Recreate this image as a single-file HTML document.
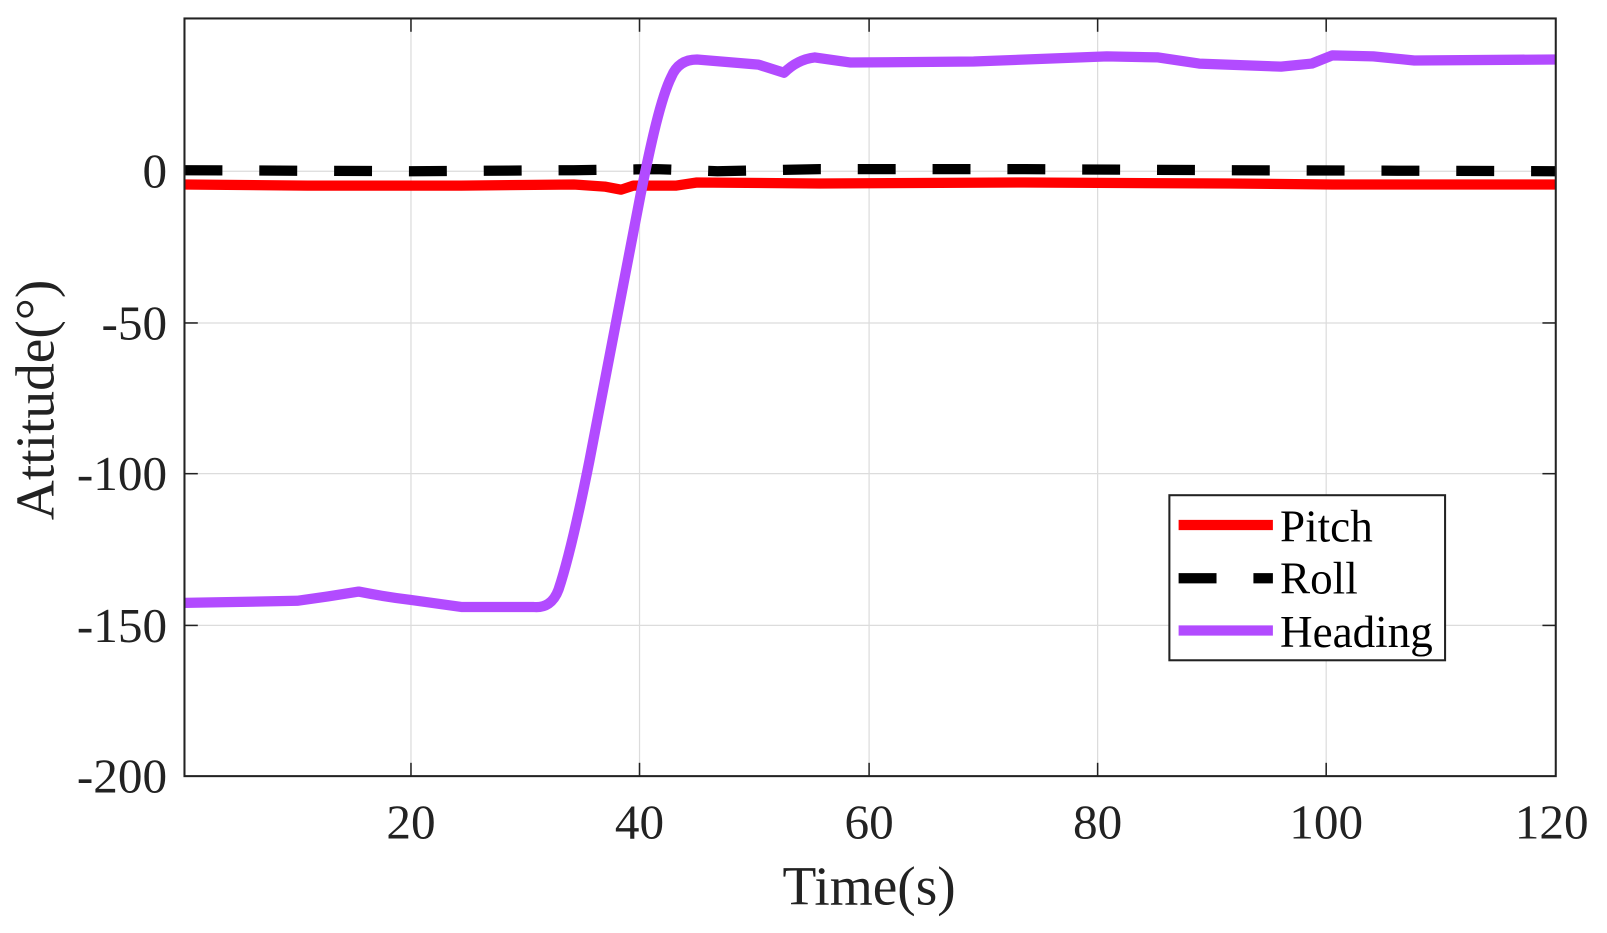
<!DOCTYPE html>
<html><head><style>
html,body{margin:0;padding:0;background:#fff;}
svg{display:block;}
text{font-family:"Liberation Serif",serif;fill:#222;}
</style></head><body>
<svg width="1607" height="933" viewBox="0 0 1568 910" preserveAspectRatio="none">
<rect x="0" y="0" width="1568" height="910" fill="#fff"/>
<g stroke="#dcdcdc" stroke-width="1.2">
<line x1="401" y1="18" x2="401" y2="757"/>
<line x1="624" y1="18" x2="624" y2="757"/>
<line x1="848" y1="18" x2="848" y2="757"/>
<line x1="1071" y1="18" x2="1071" y2="757"/>
<line x1="1294" y1="18" x2="1294" y2="757"/>
<line x1="180" y1="167" x2="1518" y2="167"/>
<line x1="180" y1="315" x2="1518" y2="315"/>
<line x1="180" y1="462" x2="1518" y2="462"/>
<line x1="180" y1="610" x2="1518" y2="610"/>
</g>
<g stroke="#222" stroke-width="1.5">
<line x1="401" y1="757" x2="401" y2="744"/><line x1="624" y1="757" x2="624" y2="744"/><line x1="848" y1="757" x2="848" y2="744"/><line x1="1071" y1="757" x2="1071" y2="744"/><line x1="1294" y1="757" x2="1294" y2="744"/>
<line x1="401" y1="18" x2="401" y2="31"/><line x1="624" y1="18" x2="624" y2="31"/><line x1="848" y1="18" x2="848" y2="31"/><line x1="1071" y1="18" x2="1071" y2="31"/><line x1="1294" y1="18" x2="1294" y2="31"/>
<line x1="180" y1="167" x2="193" y2="167"/><line x1="180" y1="315" x2="193" y2="315"/><line x1="180" y1="462" x2="193" y2="462"/><line x1="180" y1="610" x2="193" y2="610"/>
<line x1="1518" y1="167" x2="1505" y2="167"/><line x1="1518" y1="315" x2="1505" y2="315"/><line x1="1518" y1="462" x2="1505" y2="462"/><line x1="1518" y1="610" x2="1505" y2="610"/>
</g>
<path d="M180,180 L300,181 L450,181 L560,180 L590,182 L606,185 L618,181 L660,181 L680,178 L800,179 L1000,178 L1200,179 L1300,180 L1518,180" fill="none" stroke="#ff0000" stroke-width="10" stroke-linejoin="round"/>
<path d="M180,166 L400,167 L560,166 L640,165 L700,167 L800,165 L1000,165 L1200,166 L1518,167" fill="none" stroke="#000" stroke-width="10" stroke-dasharray="37,36"/>
<path d="M180,588 L290,586 Q320,582 350,577 Q375,582 400,585 L450,592 L520,592 Q538,594 545,575 C555,545 565,500 575,450 L600,320 L625,190 C635,140 645,95 655,75 Q662,58 680,58 L740,63 L765,71 Q778,58 795,56 L830,61 L950,60 L1080,55 L1130,56 L1170,62 L1250,65 L1280,62 L1300,54 L1340,55 L1380,59 L1518,58" fill="none" stroke="#b24bff" stroke-width="10" stroke-linejoin="round"/>
<rect x="180" y="18" width="1338" height="739" fill="none" stroke="#222" stroke-width="2"/>
<g font-size="48" text-anchor="middle">
<text x="401" y="818">20</text><text x="624" y="818">40</text><text x="848" y="818">60</text><text x="1071" y="818">80</text><text x="1294" y="818">100</text><text x="1514" y="818">120</text>
</g>
<g font-size="48" text-anchor="end">
<text x="163" y="183">0</text><text x="163" y="331">-50</text><text x="163" y="478">-100</text><text x="163" y="626">-150</text><text x="163" y="773">-200</text>
</g>
<text x="848" y="882" font-size="54" text-anchor="middle">Time(s)</text>
<text transform="translate(52,390) rotate(-90)" font-size="54" text-anchor="middle">Attitude(°)</text>
<rect x="1141" y="483" width="269" height="161" fill="#fff" stroke="#222" stroke-width="2"/>
<line x1="1150" y1="512" x2="1242" y2="512" stroke="#ff0000" stroke-width="10"/>
<line x1="1150" y1="564" x2="1187" y2="564" stroke="#000" stroke-width="10"/>
<line x1="1223" y1="564" x2="1242" y2="564" stroke="#000" stroke-width="10"/>
<line x1="1150" y1="615" x2="1242" y2="615" stroke="#b24bff" stroke-width="10"/>
<g font-size="44">
<text x="1249" y="528" style="fill:#000">Pitch</text><text x="1249" y="579" style="fill:#000">Roll</text><text x="1249" y="631" style="fill:#000">Heading</text>
</g>
</svg>
</body></html>
